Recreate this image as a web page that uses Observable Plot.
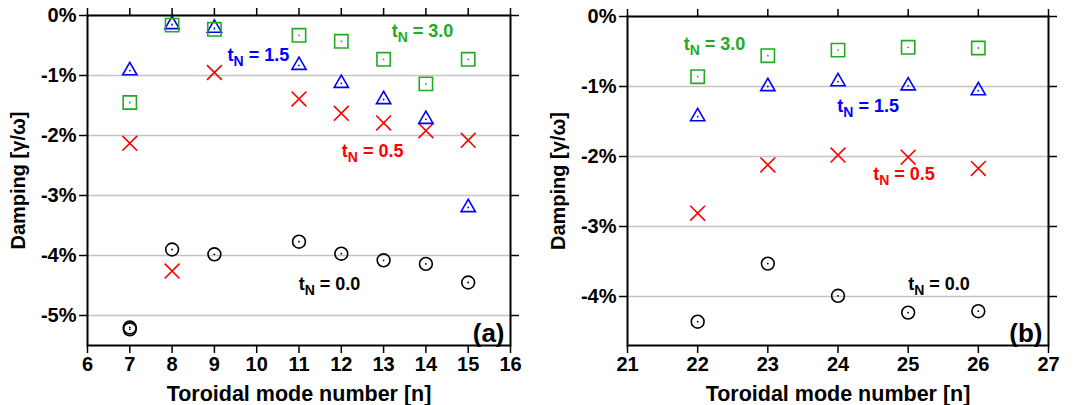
<!DOCTYPE html>
<html><head><meta charset="utf-8">
<script src="https://cdn.jsdelivr.net/npm/d3@7"></script>
<script src="https://cdn.jsdelivr.net/npm/@observablehq/plot@0.6"></script>
<style>
body{margin:0;background:#fff}
#wrap{display:flex;width:1083px;height:405px}
</style>
</head><body><div id="wrap"></div>
<script>
// ---- panel (a) data ----
const aN = [7, 8, 9, 11, 12, 13, 14, 15];
const aN00 = [7, 7, 8, 9, 11, 12, 13, 14, 15];
const aT00 = [-5.20, -5.23, -3.90, -3.98, -3.77, -3.97, -4.08, -4.14, -4.45];
const aT05 = [-2.13, -4.26, -0.95, -1.39, -1.63, -1.79, -1.92, -2.08];
const aT15 = [-0.92, -0.15, -0.21, -0.83, -1.13, -1.40, -1.73, -3.20];
const aT30 = [-1.45, -0.16, -0.23, -0.33, -0.43, -0.73, -1.14, -0.73];
// ---- panel (b) data ----
const bN = [22, 23, 24, 25, 26];
const bT00 = [-4.36, -3.53, -3.99, -4.23, -4.21];
const bT05 = [-2.81, -2.12, -1.98, -2.01, -2.17];
const bT15 = [-1.43, -1.00, -0.93, -0.99, -1.06];
const bT30 = [-0.86, -0.56, -0.48, -0.44, -0.45];
// ---- ticks ----
const aXTicks = [6, 7, 8, 9, 10, 11, 12, 13, 14, 15, 16];
const bXTicks = [21, 22, 23, 24, 25, 26, 27];
const aYTicks = [0, -1, -2, -3, -4, -5];
const bYTicks = [0, -1, -2, -3, -4];
// ---- annotation anchors (n, damping) ----
const labelTexts = ["tN = 0.0", "tN = 0.5", "tN = 1.5", "tN = 3.0"];
const labelColors = ["black", "#ff0000", "#0000ff", "#22aa22"];
const aLabelN = [11.72, 12.74, 10.04, 13.92];
const aLabelV = [-4.48, -2.26, -0.66, -0.26];
const bLabelN = [25.44, 24.94, 24.43, 22.24];
const bLabelV = [-3.82, -2.26, -1.28, -0.40];

const rows = (ns, vs) => ns.map((n, i) => ({n, v: vs[i]}));
const FONT = '"Liberation Sans", Arial, Helvetica, sans-serif';

function panel(o) {
  const marks = [
    Plot.gridY(o.yTicks, {stroke: "#c4c4c4", strokeOpacity: 1, strokeWidth: 1.5})
  ];
  for (const s of o.series) {
    marks.push(Plot.dot(s.data, {x: "n", y: "v", symbol: s.symbol, stroke: s.color, r: s.r, strokeWidth: 1.6}));
    if (s.center) marks.push(Plot.dot(s.data, {x: "n", y: "v", r: 0.9, fill: s.color, stroke: "none"}));
  }
  const lab = labelTexts.map((t, i) => ({n: o.labelN[i], v: o.labelV[i], text: t, color: labelColors[i]}));
  marks.push(
    Plot.frame({stroke: "black", strokeWidth: 2}),
    Plot.axisX({ticks: o.xTicks, tickSize: 8, tickPadding: 3, strokeWidth: 1.5, tickFormat: d => String(d), fontSize: 20,
      label: "Toroidal mode number [n]", labelAnchor: "center", labelOffset: 55}),
    Plot.axisX({anchor: "top", ticks: o.xTicks, tickSize: 8, strokeWidth: 1.5, tickFormat: () => "", label: null}),
    Plot.axisY({ticks: o.yTicks, tickSize: 8, tickPadding: 3, strokeWidth: 1.5, fontSize: 20,
      tickFormat: d => (d === 0 ? "0" : "-" + Math.abs(d)) + "%",
      label: "Damping [γ/ω]", labelAnchor: "center", labelOffset: 77}),
    Plot.axisY({anchor: "right", ticks: o.yTicks, tickSize: 8, strokeWidth: 1.5, tickFormat: () => "", label: null}),
    Plot.text(lab, {x: "n", y: "v", text: "text", fill: "color", fontSize: 18, fontWeight: "bold"}),
    Plot.text([o.tag], {frameAnchor: "bottom-right", dx: -6, dy: -4, fontSize: 26, fontWeight: "bold", textAnchor: "end", lineAnchor: "bottom"})
  );
  const svg = Plot.plot({
    width: o.width, height: 405,
    marginLeft: 87, marginRight: o.marginRight, marginTop: o.marginTop, marginBottom: 60,
    x: {domain: o.xDomain},
    y: {domain: o.yDomain},
    style: {fontFamily: FONT, fontWeight: "bold", fontSize: "20px", color: "black", background: "white", overflow: "visible"},
    marks
  });
  d3.select(svg).selectAll("text").each(function () {
    const s = this.textContent;
    if (s.startsWith("tN")) {
      // subscript N in tN labels
      const el = d3.select(this);
      el.text("");
      el.append("tspan").text("t");
      el.append("tspan").attr("dy", 5).attr("font-size", 14).text("N");
      el.append("tspan").attr("dy", -5).text(s.slice(2));
    } else if (/[→↑←↓]/.test(s)) {
      // drop the axis-label arrows that the reference does not have
      const t = this.querySelector("tspan") || this;
      t.textContent = t.textContent.replace(/\s*[→↑←↓]\s*/g, "").trim();
      this.querySelectorAll("tspan").forEach(ts => { if (/^[\s→↑←↓]*$/.test(ts.textContent)) ts.remove(); });
      if (s.includes("Toroidal")) this.setAttribute("font-size", "21.5");
    }
  });
  return svg;
}

const wrap = document.getElementById("wrap");
wrap.append(panel({
  width: 540, marginRight: 30, marginTop: 15,
  xDomain: [6, 16], yDomain: [-5.5, 0], xTicks: aXTicks, yTicks: aYTicks,
  labelN: aLabelN, labelV: aLabelV, tag: "(a)",
  series: [
    {data: rows(aN00, aT00), symbol: "circle", color: "black", r: 6.4, center: true},
    {data: rows(aN, aT05), symbol: "times", color: "#ff0000", r: 6.8, center: false},
    {data: rows(aN, aT15), symbol: "triangle", color: "#0000ff", r: 5.3, center: true},
    {data: rows(aN, aT30), symbol: "square", color: "#22aa22", r: 7.5, center: true}
  ]
}));
wrap.append(panel({
  width: 543, marginRight: 35, marginTop: 16,
  xDomain: [21, 27], yDomain: [-4.7, 0], xTicks: bXTicks, yTicks: bYTicks,
  labelN: bLabelN, labelV: bLabelV, tag: "(b)",
  series: [
    {data: rows(bN, bT00), symbol: "circle", color: "black", r: 6.4, center: true},
    {data: rows(bN, bT05), symbol: "times", color: "#ff0000", r: 6.8, center: false},
    {data: rows(bN, bT15), symbol: "triangle", color: "#0000ff", r: 5.3, center: true},
    {data: rows(bN, bT30), symbol: "square", color: "#22aa22", r: 7.5, center: true}
  ]
}));
</script>
</body></html>
